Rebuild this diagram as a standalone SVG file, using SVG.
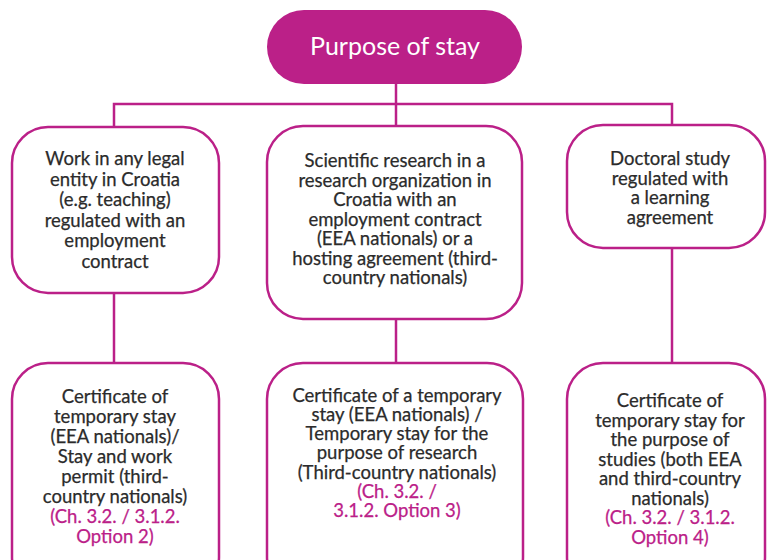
<svg xmlns="http://www.w3.org/2000/svg" width="767" height="560" viewBox="0 0 767 560">
<style>
.box{fill:#ffffff;stroke:#BB2088;stroke-width:2.5}
.ln{stroke:#BB2088;stroke-width:2.5;fill:none}
.t{font-family:Lato,"Liberation Sans",sans-serif;font-size:18.5px;fill:#2b2b2b;stroke:#2b2b2b;stroke-width:0.25;text-anchor:middle}
.m{fill:#BB2088;stroke:#BB2088}
.h{font-family:Lato,"Liberation Sans",sans-serif;font-size:25px;fill:#ffffff;text-anchor:middle}
</style>
<rect width="767" height="560" fill="#ffffff"/>
<g id="connectors">
<line class="ln" x1="396" y1="84" x2="396" y2="104"/>
<polyline class="ln" points="114,127 114,104 672,104 672,125"/>
<line class="ln" x1="396" y1="104" x2="396" y2="126"/>
<line class="ln" x1="114" y1="293" x2="114" y2="363"/>
<line class="ln" x1="396" y1="319" x2="396" y2="363"/>
<line class="ln" x1="672" y1="248" x2="672" y2="363"/>
</g>
<g id="purpose">
<rect x="267" y="10" width="255" height="74" rx="37" fill="#BB2088"/>
<text class="h" x="395" y="55">Purpose of stay</text>
</g>
<g id="work">
<rect class="box" x="12" y="127" width="207" height="166" rx="36"/>
<text class="t" x="115"><tspan x="115" y="165">Work in any legal</tspan><tspan x="115" y="185.5">entity in Croatia</tspan><tspan x="115" y="206">(e.g. teaching)</tspan><tspan x="115" y="226.5">regulated with an</tspan><tspan x="115" y="247">employment</tspan><tspan x="115" y="267.5">contract</tspan></text>
</g>
<g id="research">
<rect class="box" x="267" y="126" width="255" height="193" rx="36"/>
<text class="t"><tspan x="395" y="167">Scientific research in a</tspan><tspan x="395" y="186.5">research organization in</tspan><tspan x="395" y="206">Croatia with an</tspan><tspan x="395" y="225.5">employment contract</tspan><tspan x="395" y="245">(EEA nationals) or a</tspan><tspan x="395" y="264.5">hosting agreement (third-</tspan><tspan x="395" y="284">country nationals)</tspan></text>
</g>
<g id="doctoral">
<rect class="box" x="567" y="125" width="198" height="123" rx="36"/>
<text class="t"><tspan x="670" y="165">Doctoral study</tspan><tspan x="670" y="184.5">regulated with</tspan><tspan x="670" y="204">a learning</tspan><tspan x="670" y="223.5">agreement</tspan></text>
</g>
<g id="cert-work">
<rect class="box" x="12" y="363" width="207" height="230" rx="36"/>
<text class="t"><tspan x="115" y="403">Certificate of</tspan><tspan x="115" y="423">temporary stay</tspan><tspan x="115" y="443">(EEA nationals)/</tspan><tspan x="115" y="463">Stay and work</tspan><tspan x="115" y="483">permit (third-</tspan><tspan x="115" y="503">country nationals)</tspan><tspan class="m" x="115" y="523">(Ch. 3.2. / 3.1.2.</tspan><tspan class="m" x="115" y="543">Option 2)</tspan></text>
</g>
<g id="cert-research">
<rect class="box" x="267" y="363" width="256" height="230" rx="36"/>
<text class="t"><tspan x="397" y="402">Certificate of a temporary</tspan><tspan x="397" y="421">stay (EEA nationals) /</tspan><tspan x="397" y="440">Temporary stay for the</tspan><tspan x="397" y="459">purpose of research</tspan><tspan x="397" y="479">(Third-country nationals)</tspan><tspan class="m" x="397" y="498">(Ch. 3.2. /</tspan><tspan class="m" x="397" y="517">3.1.2. Option 3)</tspan></text>
</g>
<g id="cert-study">
<rect class="box" x="567" y="363" width="198" height="230" rx="36"/>
<text class="t"><tspan x="670" y="407">Certificate of</tspan><tspan x="670" y="426.5">temporary stay for</tspan><tspan x="670" y="446">the purpose of</tspan><tspan x="670" y="465.5">studies (both EEA</tspan><tspan x="670" y="485">and third-country</tspan><tspan x="670" y="504.5">nationals)</tspan><tspan class="m" x="670" y="524">(Ch. 3.2. / 3.1.2.</tspan><tspan class="m" x="670" y="543.5">Option 4)</tspan></text>
</g>
</svg>
